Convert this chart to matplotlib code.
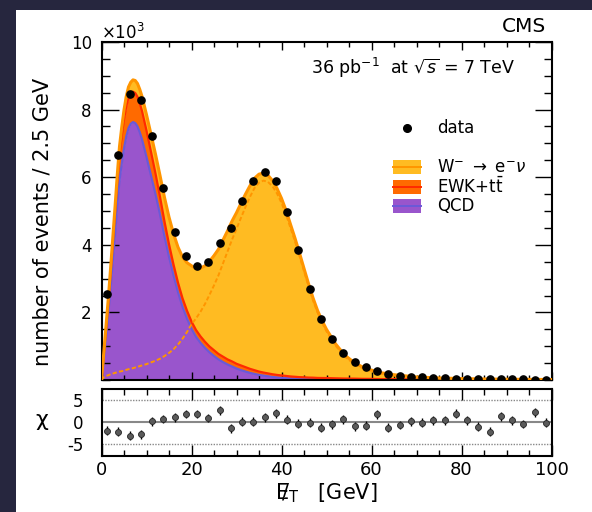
import numpy as np
import matplotlib
matplotlib.use("Agg")
import matplotlib.pyplot as plt
from matplotlib.patches import Rectangle
from matplotlib.lines import Line2D
from matplotlib.ticker import MultipleLocator

plt.rcParams['font.family'] = ['DejaVu Sans']
plt.rcParams['mathtext.fontset'] = 'dejavusans'
plt.rcParams['axes.unicode_minus'] = False

# ---------------- data (values in units of 10^3 events / 2.5 GeV) ----------------
bin_width = 2.5
data_vals = [2.53, 6.66, 8.45, 8.28, 7.21, 5.68, 4.37, 3.67, 3.37, 3.49,
             4.05, 4.49, 5.29, 5.90, 6.15, 5.90, 4.97, 3.84, 2.70, 1.80,
             1.21, 0.79, 0.53, 0.38, 0.27, 0.19, 0.13, 0.10, 0.08, 0.07,
             0.05, 0.04, 0.03, 0.03, 0.02, 0.02, 0.02, 0.02, 0.01, 0.01]
chi_vals = [-2.0, -2.2, -3.1, -2.7, 0.2, 0.67, 1.04, 1.8, 1.8, 0.9,
            2.6, -1.4, 0.08, 0.08, 1.1, 1.93, 0.52, -0.37, -0.14, -1.25,
            -0.5, 0.6, -1.0, -0.8, 1.7, -1.25, -0.67, 0.2, -0.14, 0.44,
            0.44, 1.86, 0.44, -1.1, -2.2, 1.33, 0.37, -0.44, 2.2, -0.14]

# model curves (10^3 events / 2.5 GeV)
mc_x = [0, 0.5, 1, 1.5, 2, 2.5, 3, 3.5, 4, 4.5, 5, 5.5, 6, 6.5, 7, 7.5, 8, 8.5, 9,
        10, 11, 12, 13, 14, 15, 16, 17, 18, 19, 20, 21, 22, 23, 24, 25, 26, 27, 28,
        29, 30, 31, 32, 33, 34, 35, 36, 37, 38, 39, 40, 41, 42, 43, 44, 45, 46, 47,
        48, 49, 50, 52, 54, 56, 58, 60, 62, 65, 70, 75, 80, 85, 90, 95, 100]
qcd = [0.0, 0.6, 1.25, 1.95, 2.7, 3.5, 4.3, 5.15, 5.9, 6.4, 6.85, 7.2, 7.45, 7.58,
       7.63, 7.6, 7.5, 7.33, 7.12,
       6.6, 6.05, 5.5, 4.9, 4.25, 3.65, 3.1, 2.6, 2.17, 1.82, 1.52, 1.28, 1.1, 0.95,
       0.82, 0.71, 0.61, 0.53, 0.46, 0.4, 0.34, 0.29, 0.25, 0.21, 0.18, 0.15, 0.13,
       0.11, 0.09, 0.075, 0.065, 0.055, 0.045, 0.04, 0.035, 0.03, 0.027, 0.024,
       0.021, 0.019, 0.018, 0.015, 0.013, 0.011, 0.009, 0.008, 0.007, 0.006, 0.004,
       0.003, 0.002, 0.002, 0.001, 0.001, 0.0]
ewk = [0.0, 0.12, 0.22, 0.3, 0.4, 0.5, 0.6, 0.68, 0.76, 0.82, 0.86, 0.89, 0.9, 0.9,
       0.9, 0.89, 0.88, 0.86, 0.84,
       0.78, 0.7, 0.61, 0.52, 0.44, 0.37, 0.32, 0.28, 0.25, 0.23, 0.21, 0.2, 0.19,
       0.18, 0.17, 0.17, 0.16, 0.16, 0.15, 0.15, 0.14, 0.14, 0.13, 0.12, 0.11, 0.1,
       0.09, 0.085, 0.08, 0.075, 0.07, 0.065, 0.06, 0.055, 0.05, 0.05, 0.045, 0.045,
       0.04, 0.04, 0.04, 0.035, 0.03, 0.03, 0.025, 0.025, 0.02, 0.02, 0.015, 0.012,
       0.01, 0.008, 0.006, 0.005, 0.005]
wenu = [0.0, 0.08, 0.12, 0.14, 0.17, 0.19, 0.21, 0.23, 0.25, 0.26, 0.28, 0.3, 0.32,
        0.33, 0.35, 0.37, 0.39, 0.41, 0.43,
        0.47, 0.52, 0.57, 0.63, 0.71, 0.8, 0.91, 1.05, 1.22, 1.42, 1.65, 1.82, 2.02,
        2.25, 2.52, 2.8, 3.1, 3.45, 3.8, 4.15, 4.47, 4.8, 5.12, 5.42, 5.68, 5.84,
        5.9, 5.86, 5.73, 5.52, 5.24, 4.9, 4.5, 4.1, 3.67, 3.22, 2.78, 2.36, 2.0, 1.7,
        1.44, 1.02, 0.7, 0.49, 0.35, 0.26, 0.19, 0.13, 0.07, 0.045, 0.03, 0.02,
        0.015, 0.012, 0.009]

# ---------------- figure ----------------
W, H = 592, 512
fig = plt.figure(figsize=(W / 100, H / 100), dpi=100)
fig.patch.set_facecolor('#26263e')
fig.patches.append(Rectangle((16 / W, 0), 1 - 16 / W, 1 - 10 / H,
                             transform=fig.transFigure, facecolor='white',
                             edgecolor='none', zorder=-5))

def fx(px):
    return px / W

def fy(py):
    return 1 - py / H

L, R = 101.5, 551.5
ax = fig.add_axes([fx(L), fy(380), (R - L) / W, (380 - 42) / H])
axr = fig.add_axes([fx(L), fy(455.5), (R - L) / W, (455.5 - 389) / H])

x = np.array(mc_x, dtype=float)
q = np.array(qcd)
e = np.array(ewk)
w = np.array(wenu)
qe = q + e
tot = qe + w

c_w_fill, c_w_line = '#FFBB22', '#FF9500'
c_e_fill, c_e_line = '#FF6A00', '#FF2A00'
c_q_fill, c_q_line = '#9955CC', '#6A5AD8'

ax.fill_between(x, qe, tot, color=c_w_fill, lw=0, zorder=1)
ax.fill_between(x, q, qe, color=c_e_fill, lw=0, zorder=1)
ax.fill_between(x, 0, q, color=c_q_fill, lw=0, zorder=1)
ax.plot(x, q, color=c_q_line, lw=1.6, zorder=2)
ax.plot(x, qe, color=c_e_line, lw=1.6, zorder=2)
ax.plot(x, tot, color=c_w_line, lw=2.2, zorder=3)
ax.plot(x, w, color=c_w_line, lw=1.4, ls=(0, (2.2, 1.2)), zorder=3)

centers = np.arange(len(data_vals)) * bin_width + bin_width / 2
ax.plot(centers, data_vals, 'o', color='black', ms=5.2, zorder=5)

ax.set_xlim(0, 100)
ax.set_ylim(0, 10)
ax.set_yticks([2, 4, 6, 8, 10])
ax.yaxis.set_minor_locator(MultipleLocator(0.5))
ax.xaxis.set_major_locator(MultipleLocator(20))
ax.xaxis.set_minor_locator(MultipleLocator(5))
ax.tick_params(axis='x', which='both', direction='in', top=True, bottom=True,
               labelbottom=False)
ax.tick_params(axis='x', which='major', length=6, width=1)
ax.tick_params(axis='x', which='minor', length=3.5, width=1)
ax.tick_params(axis='y', which='both', direction='in', left=True, right=True,
               labelsize=12, pad=7)
ax.tick_params(axis='y', which='major', length=12, width=1)
ax.tick_params(axis='y', which='minor', length=6, width=1)
for s in ax.spines.values():
    s.set_linewidth(1.5)

# ratio panel
axr.axhline(0, color='#888888', lw=1.5, zorder=1)
for yy in (5, -5):
    axr.axhline(yy, color='#888888', lw=1.0, ls=(0, (1, 1)), zorder=1)
axr.errorbar(centers, chi_vals, yerr=1.0, fmt='o', ms=4.3, mfc='#5a5a5a',
             mec='#222222', mew=0.6, ecolor='black', elinewidth=1.0, capsize=0,
             zorder=3)
axr.set_xlim(0, 100)
axr.set_ylim(-7.5, 7.4)
axr.set_yticks([-5, 0, 5])
axr.xaxis.set_major_locator(MultipleLocator(20))
axr.xaxis.set_minor_locator(MultipleLocator(5))
axr.tick_params(axis='x', which='both', direction='in', top=True, bottom=True,
                labelsize=13, pad=4)
axr.tick_params(axis='x', which='major', length=8, width=1)
axr.tick_params(axis='x', which='minor', length=4.5, width=1)
axr.tick_params(axis='y', which='both', direction='in', left=True, right=True,
                labelsize=12, pad=13, length=0)
for s in axr.spines.values():
    s.set_linewidth(1.5)

# ---------------- texts ----------------
fig.text(fx(101), fy(33), r'$\times$10$^{3}$', fontsize=12, ha='left', va='center')
fig.text(fx(546), fy(27), 'CMS', fontsize=14.5, ha='right', va='center')
fig.text(fx(311), fy(68), r'36 pb$^{-1}$  at $\sqrt{s}$ = 7 TeV', fontsize=12.5,
         ha='left', va='center')
fig.text(fx(43), fy(222), 'number of events / 2.5 GeV', fontsize=15,
         rotation=90, ha='center', va='center')
fig.text(fx(42), fy(420), '\u03c7', fontsize=16, ha='center', va='center')
# x-axis title: slashed E_T
fig.text(fx(327), fy(493), r'$/\!\!\!\!\mathrm{E}_{\mathrm{T}}$   [GeV]',
         fontsize=15, ha='center', va='center')

# ---------------- legend ----------------
ax.plot([fx(407)], [fy(128)], 'o', color='black', ms=5.5,
        transform=fig.transFigure, clip_on=False)
fig.text(fx(437), fy(128), 'data', fontsize=12, ha='left', va='center')
entries = [(167, c_w_fill, c_w_line, r'W$^{-}$ $\rightarrow$ e$^{-}$$\nu$'),
           (187, c_e_fill, c_e_line, r'EWK+t$\bar{\mathrm{t}}$'),
           (206, c_q_fill, c_q_line, 'QCD')]
for yc, fc, lc, lab in entries:
    fig.patches.append(Rectangle((fx(393), fy(yc + 7)), 28 / W, 14 / H,
                                 transform=fig.transFigure, facecolor=fc,
                                 edgecolor='none', zorder=5))
    fig.lines.append(Line2D([fx(393), fx(421)], [fy(yc), fy(yc)],
                            transform=fig.transFigure, color=lc, lw=1.4, zorder=6))
    fig.text(fx(437), fy(yc), lab, fontsize=12, ha='left', va='center')

fig.savefig('out.png', dpi=100, facecolor=fig.get_facecolor())
